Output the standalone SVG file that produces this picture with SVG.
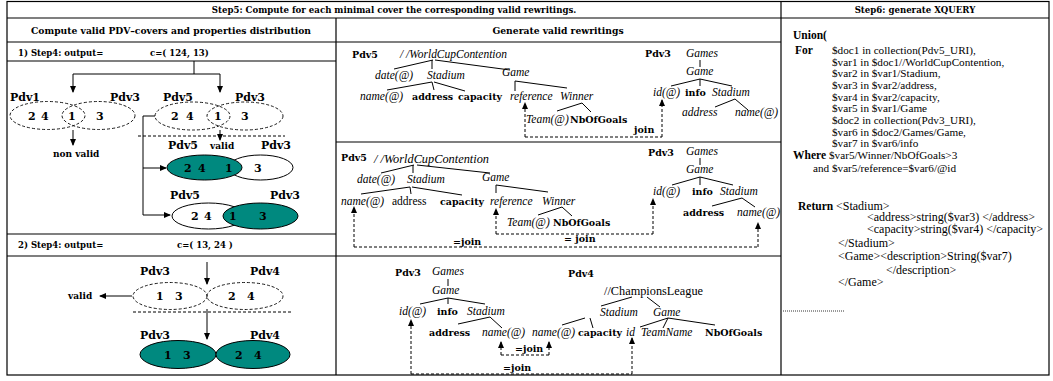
<svg xmlns="http://www.w3.org/2000/svg" width="1053" height="381" viewBox="0 0 1053 381">
<style>
.b{font-family:"DejaVu Serif",serif;font-weight:bold;fill:#000}
.h{font-size:8.6px}
.pv{font-size:11px}
.num{font-size:11px}
.sm{font-size:9px}
.mb{font-family:"DejaVu Serif",serif;font-weight:bold;font-size:9.5px}
.it{font-family:"Liberation Serif",serif;font-style:italic;font-size:11.5px}
.rg{font-family:"Liberation Serif",serif;font-size:11.5px}
.q{font-family:"Liberation Serif",serif;font-size:11.2px}
.qr{font-family:"Liberation Serif",serif;font-size:12px}
.qb{font-family:"Liberation Serif",serif;font-size:11.5px;font-weight:bold}
.ln{stroke:#000;stroke-width:1;fill:none}
.tb{stroke:#000;stroke-width:1.2;fill:none}
.ar{stroke:#000;stroke-width:1;fill:none;marker-end:url(#ah)}
.da{stroke:#000;stroke-width:1;fill:none;stroke-dasharray:3,2}
.dar{stroke:#000;stroke-width:1;fill:none;stroke-dasharray:3,2;marker-end:url(#ah)}
.de{stroke:#000;stroke-width:0.9;fill:none;stroke-dasharray:3,2}
.we{stroke:#000;stroke-width:1;fill:#fff}
.te{stroke:#000;stroke-width:1;fill:#00897f}
</style>
<defs>
<marker id="ah" markerUnits="userSpaceOnUse" markerWidth="7" markerHeight="6" refX="6" refY="3" orient="auto">
<path d="M0,0 L7,3 L0,6 z" fill="#000"/>
</marker>
<clipPath id="rc"><rect x="782" y="19" width="266" height="355"/></clipPath>
</defs>

<g id="table">
<rect class="tb" x="7" y="1.5" width="1042" height="373.5"/>
<line class="tb" x1="7" y1="18" x2="1049" y2="18"/>
<line class="tb" x1="7" y1="42" x2="781" y2="42"/>
<line class="tb" x1="781" y1="1.5" x2="781" y2="375"/>
<line class="tb" x1="336" y1="18" x2="336" y2="375"/>
<line class="tb" x1="7" y1="61" x2="336" y2="61"/>
<line class="tb" x1="7" y1="234" x2="336" y2="234"/>
<line class="tb" x1="7" y1="256" x2="781" y2="256"/>
<line class="tb" x1="336" y1="142" x2="781" y2="142"/>
<text class="b h" x="394" y="13" text-anchor="middle">Step5:  Compute for each minimal cover the corresponding valid rewritings.</text>
<text class="b h" x="915" y="13" text-anchor="middle">Step6: generate XQUERY</text>
<text class="b" font-size="9.2" x="171" y="34" text-anchor="middle">Compute valid PDV–covers and properties distribution</text>
<text class="b" font-size="9.2" x="558" y="34" text-anchor="middle">Generate valid rewritings</text>
<text class="b" font-size="8.5" x="18" y="56">1) Step4: output=</text>
<text class="b" font-size="8.5" x="150" y="56">c=( 124, 13)</text>
<text class="b" font-size="8.5" x="18" y="248">2) Step4: output=</text>
<text class="b" font-size="8.5" x="177" y="248">c=( 13, 24 )</text>
</g>

<g id="connectors">
<path class="ar" d="M194,61 V74 H73 V92"/>
<path class="ar" d="M194,74 H220 V92"/>
<path class="ar" d="M73,130 V145"/>
<path class="ar" d="M220,130 V140"/>
<line class="da" x1="138" y1="136" x2="285" y2="136"/>
<path class="ar" d="M155,116 H143 V215 H170"/>
<path class="ar" d="M143,168 H166"/>
<path class="ar" d="M207,262 V284"/>
<path class="ar" d="M132,296 H100"/>
<line class="da" x1="133" y1="312" x2="293" y2="312"/>
<path class="ar" d="M207,309 V339"/>
<path class="da" d="M525,137 H662"/>
<path class="dar" d="M525,137 V103"/>
<path class="dar" d="M662,137 V100"/>
<path class="da" d="M496,234 H653"/>
<path class="dar" d="M496,234 V209"/>
<path class="dar" d="M653,234 V199"/>
<path class="da" d="M354,247 H758"/>
<path class="dar" d="M354,247 V207"/>
<path class="dar" d="M758,247 V223"/>
<path class="da" d="M501,355 H549"/>
<path class="dar" d="M501,355 V342"/>
<path class="dar" d="M549,355 V342"/>
<path class="da" d="M411,374 H632"/>
<path class="dar" d="M411,374 V320"/>
<path class="dar" d="M632,374 V338"/>
</g>

<g id="cover1-pdv1-pdv3">
<ellipse class="de" cx="47.5" cy="115.5" rx="37.5" ry="14"/>
<ellipse class="de" cx="98.5" cy="115.5" rx="36.5" ry="14"/>
<text class="b pv" x="10" y="101">Pdv1</text>
<text class="b pv" x="110" y="101">Pdv3</text>
<text class="b num" x="28" y="120">2</text><text class="b num" x="41" y="120">4</text>
<text class="b num" x="68" y="120">1</text><text class="b num" x="96" y="120">3</text>
<text class="b sm" x="53" y="157">non valid</text>
</g>

<g id="cover1-pdv5-pdv3">
<ellipse class="de" cx="192.5" cy="116" rx="37.5" ry="14"/>
<ellipse class="de" cx="245" cy="116" rx="38" ry="14"/>
<text class="b pv" x="163" y="101">Pdv5</text>
<text class="b pv" x="235" y="101">Pdv3</text>
<text class="b num" x="171" y="120">2</text><text class="b num" x="186" y="120">4</text>
<text class="b num" x="214" y="120">1</text><text class="b num" x="241" y="120">3</text>
</g>

<g id="valid1a">
<text class="b pv" x="168" y="149">Pdv5</text>
<text class="b sm" x="210" y="149">valid</text>
<text class="b pv" x="261" y="149">Pdv3</text>
<ellipse class="we" cx="260.5" cy="167.5" rx="32.5" ry="12.5"/>
<ellipse class="te" cx="204.5" cy="167.5" rx="37.5" ry="12.5"/>
<text class="b num" x="184" y="172">2</text><text class="b num" x="198" y="172">4</text>
<text class="b num" x="225" y="172">1</text><text class="b num" x="254" y="172">3</text>
</g>

<g id="valid1b">
<text class="b pv" x="170" y="199">Pdv5</text>
<text class="b pv" x="270" y="199">Pdv3</text>
<ellipse class="we" cx="208.5" cy="216" rx="36.5" ry="13"/>
<ellipse class="te" cx="260.5" cy="216" rx="37.5" ry="13"/>
<text class="b num" x="191" y="220">2</text><text class="b num" x="204" y="220">4</text>
<text class="b num" x="229" y="220">1</text><text class="b num" x="259" y="220">3</text>
</g>

<g id="cover2-pdv3-pdv4">
<text class="b pv" x="140" y="275">Pdv3</text>
<text class="b pv" x="250" y="275">Pdv4</text>
<ellipse class="de" cx="170" cy="296" rx="37" ry="13.5"/>
<ellipse class="de" cx="245" cy="296" rx="38" ry="13.5"/>
<text class="b num" x="156" y="300">1</text><text class="b num" x="175" y="300">3</text>
<text class="b num" x="228" y="300">2</text><text class="b num" x="247" y="300">4</text>
<text class="b sm" x="68" y="299">valid</text>
</g>

<g id="valid2">
<text class="b pv" x="140" y="339">Pdv3</text>
<text class="b pv" x="250" y="339">Pdv4</text>
<ellipse class="te" cx="178" cy="354.5" rx="38" ry="14"/>
<ellipse class="te" cx="253" cy="354.5" rx="37" ry="14"/>
<text class="b num" x="164" y="359">1</text><text class="b num" x="183" y="359">3</text>
<text class="b num" x="235" y="359">2</text><text class="b num" x="254" y="359">4</text>
</g>

<g id="rewriting1">
<text class="mb" x="352" y="58">Pdv5</text>
<text class="it" x="400" y="58" textLength="107" lengthAdjust="spacingAndGlyphs">/ /WorldCupContention</text>
<path class="ln" d="M433,60 L394,69 M432,60 V69 M435,60 L510,70"/>
<text class="it" x="375" y="79">date(@)</text>
<text class="it" x="427" y="79">Stadium</text>
<text class="it" x="502" y="76">Game</text>
<path class="ln" d="M432,82 L387,90 M432,82 L434,90 M434,82 L465,91"/>
<path class="ln" d="M515,81 V91 M515,81 L567,88"/>
<text class="it" x="360" y="100">name(@)</text>
<text class="mb" x="412" y="100">address</text>
<text class="mb" x="458" y="100">capacity</text>
<text class="it" x="510" y="100">reference</text>
<text class="it" x="560" y="100">Winner</text>
<path class="ln" d="M582,103 L557,111 M582,103 L591,112"/>
<text class="it" x="526" y="123">Team(@)</text>
<text class="mb" x="570" y="123">NbOfGoals</text>
<text class="mb" x="634" y="133">join</text>
<text class="mb" x="645" y="57">Pdv3</text>
<text class="it" x="686" y="57">Games</text>
<path class="ln" d="M700,60 V67"/>
<text class="it" x="686" y="75">Game</text>
<path class="ln" d="M700,79 L671,86 M700,79 V86 M700,79 L732,86"/>
<text class="it" x="653" y="96">id(@)</text>
<text class="mb" x="685" y="96">info</text>
<text class="it" x="712" y="96">Stadium</text>
<path class="ln" d="M735,99 L715,107 M735,99 L748,110"/>
<text class="it" x="682" y="116">address</text>
<text class="it" x="735" y="116">name(@)</text>
</g>

<g id="rewriting2">
<text class="mb" x="341" y="161">Pdv5</text>
<text class="it" x="374" y="163" textLength="115" lengthAdjust="spacingAndGlyphs">/ /WorldCupContention</text>
<path class="ln" d="M414,165 L381,173 M413,165 V173 M417,165 L490,173"/>
<text class="it" x="357" y="183">date(@)</text>
<text class="it" x="407" y="183">Stadium</text>
<text class="it" x="482" y="181">Game</text>
<path class="ln" d="M410,187 L361,194 M410,187 L411,194 M412,187 L462,195"/>
<path class="ln" d="M496,185 V193 M496,185 L548,192"/>
<text class="it" x="341" y="205">name(@)</text>
<text class="rg" x="392" y="205">address</text>
<text class="mb" x="440" y="205">capacity</text>
<text class="it" x="490" y="205">reference</text>
<text class="it" x="542" y="205">Winner</text>
<path class="ln" d="M562,207 L538,215 M562,207 L572,216"/>
<text class="it" x="507" y="226">Team(@)</text>
<text class="mb" x="553" y="226">NbOfGoals</text>
<text class="mb" x="564" y="242">= join</text>
<text class="mb" x="453" y="245">=join</text>
<text class="mb" x="648" y="156">Pdv3</text>
<text class="it" x="686" y="155">Games</text>
<path class="ln" d="M700,158 V165"/>
<text class="it" x="686" y="173">Game</text>
<path class="ln" d="M700,177 L672,185 M700,177 V185 M700,177 L733,185"/>
<text class="it" x="653" y="195">id(@)</text>
<text class="mb" x="692" y="195">info</text>
<text class="it" x="720" y="195">Stadium</text>
<path class="ln" d="M742,198 L712,206 M742,198 L755,207"/>
<text class="mb" x="683" y="216">address</text>
<text class="it" x="737" y="216">name(@)</text>
</g>

<g id="rewriting3">
<text class="mb" x="395" y="276">Pdv3</text>
<text class="it" x="432" y="275">Games</text>
<path class="ln" d="M448,279 V286"/>
<text class="it" x="432" y="294">Game</text>
<path class="ln" d="M448,298 L420,304 M448,298 V304 M448,298 L485,304"/>
<text class="it" x="399" y="315">id(@)</text>
<text class="mb" x="437" y="315">info</text>
<text class="it" x="467" y="315">Stadium</text>
<path class="ln" d="M490,317 L458,324 M490,317 L502,328"/>
<text class="mb" x="429" y="336">address</text>
<text class="it" x="482" y="336">name(@)</text>
<text class="mb" x="568" y="277">Pdv4</text>
<text class="rg" x="604" y="295" textLength="99" lengthAdjust="spacingAndGlyphs">//ChampionsLeague</text>
<path class="ln" d="M632,297 L601,306 M647,297 L660,307"/>
<text class="it" x="600" y="316">Stadium</text>
<text class="it" x="653" y="316">Game</text>
<path class="ln" d="M585,318 L562,325 M590,318 L593,328"/>
<path class="ln" d="M668,318 L640,327 M668,318 L663,328 M668,318 L715,325"/>
<text class="it" x="532" y="336">name(@)</text>
<text class="mb" x="578" y="336">capacity</text>
<text class="it" x="626" y="336">id</text>
<text class="it" x="641" y="336">TeamName</text>
<text class="mb" x="705" y="336">NbOfGoals</text>
<text class="mb" x="515" y="352">=join</text>
<text class="mb" x="503" y="371">=join</text>
</g>

<g id="xquery" clip-path="url(#rc)">
<text class="qb" font-size="13" x="793" y="39">Union(</text>
<text class="qb" x="795" y="54">For</text>
<text class="q" x="832" y="54">$doc1 in collection(Pdv5_URI),</text>
<text class="q" x="832" y="65.7">$var1 in $doc1//WorldCupContention,</text>
<text class="q" x="832" y="77.3">$var2 in $var1/Stadium,</text>
<text class="q" x="832" y="89">$var3 in $var2/address,</text>
<text class="q" x="832" y="100.7">$var4 in $var2/capacity,</text>
<text class="q" x="832" y="112.3">$var5 in $var1/Game</text>
<text class="q" x="832" y="124">$doc2 in collection(Pdv3_URI),</text>
<text class="q" x="832" y="135.7">$var6 in $doc2/Games/Game,</text>
<text class="q" x="832" y="147.3">$var7 in $var6/info</text>
<text class="qb" x="793" y="159">Where</text>
<text class="q" x="829" y="159">$var5/Winner/NbOfGoals&gt;3</text>
<text class="q" x="813" y="172">and $var5/reference=$var6/@id</text>
<text class="qb" font-size="12" x="798" y="210">Return</text>
<text class="qr" x="836" y="210">&lt;Stadium&gt;</text>
<text class="qr" x="867" y="221">&lt;address&gt;string($var3) &lt;/address&gt;</text>
<text class="qr" x="867" y="233">&lt;capacity&gt;string($var4) &lt;/capacity&gt;</text>
<text class="qr" x="838" y="247">&lt;/Stadium&gt;</text>
<text class="qr" x="838" y="260">&lt;Game&gt;&lt;description&gt;String($var7)</text>
<text class="qr" x="886" y="274">&lt;/description&gt;</text>
<text class="qr" x="838" y="286">&lt;/Game&gt;</text>
<line x1="783" y1="311" x2="845" y2="311" stroke="#000" stroke-width="0.8" stroke-dasharray="1,1"/>
</g>
</svg>
